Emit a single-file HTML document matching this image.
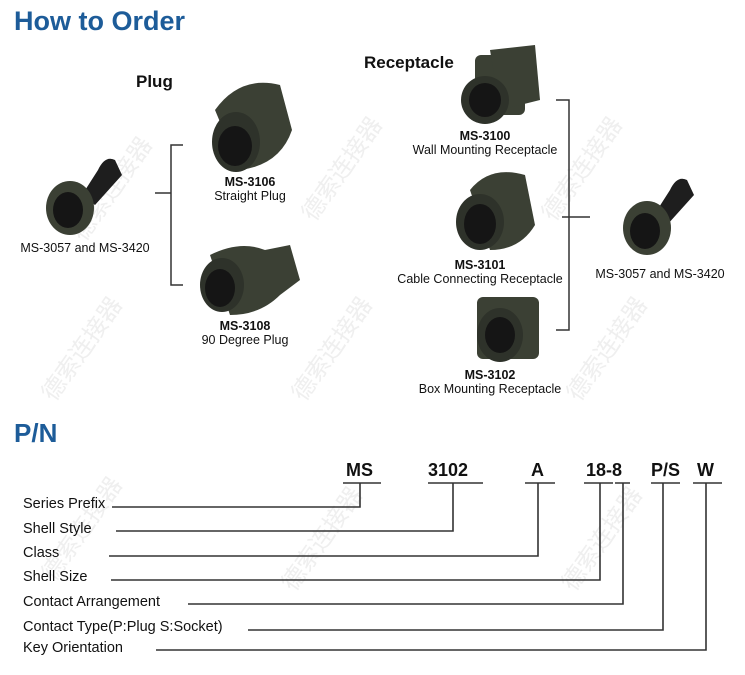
<!DOCTYPE html>
<html><head><meta charset="utf-8"><style>
body{margin:0;width:745px;height:675px;background:#fff;position:relative;overflow:hidden;font-family:"Liberation Sans","Noto Sans CJK SC",sans-serif;color:#111}
.a{position:absolute;white-space:nowrap}
.h{color:#1d5c99;font-weight:bold;font-size:27px}
.c{font-size:12.5px;text-align:center}
.b{font-weight:bold}
.lab{position:absolute;font-size:14.5px;left:23px}
.pn{position:absolute;font-weight:bold;font-size:18px;top:460px}
.wm{position:absolute;color:#efefef;font-size:24px;transform:rotate(-55deg);font-family:"Noto Sans CJK SC",sans-serif}
</style></head><body>
<div class="wm" style="left:50px;top:170px">德索连接器</div>
<div class="wm" style="left:280px;top:150px">德索连接器</div>
<div class="wm" style="left:520px;top:150px">德索连接器</div>
<div class="wm" style="left:20px;top:330px">德索连接器</div>
<div class="wm" style="left:270px;top:330px">德索连接器</div>
<div class="wm" style="left:545px;top:330px">德索连接器</div>
<div class="wm" style="left:20px;top:510px">德索连接器</div>
<div class="wm" style="left:260px;top:520px">德索连接器</div>
<div class="wm" style="left:540px;top:520px">德索连接器</div>

<div class="a h" style="left:14px;top:6px">How to Order</div>
<div class="a b" style="left:136px;top:72px;font-size:17px">Plug</div>
<div class="a b" style="left:364px;top:53px;font-size:17px">Receptacle</div>

<svg class="a" style="left:0;top:0" width="745" height="420">
<g fill="#3b4034">
<path d="M98 170 Q105 155 115 160 L122 175 L95 205 L82 195Z" fill="#1e1e1e"/>
<ellipse cx="70" cy="208" rx="24" ry="27"/><ellipse cx="68" cy="210" rx="15" ry="18" fill="#151515"/>
<path d="M670 190 Q677 175 687 180 L694 195 L667 225 L654 215Z" fill="#1e1e1e"/>
<ellipse cx="647" cy="228" rx="24" ry="27"/><ellipse cx="645" cy="231" rx="15" ry="18" fill="#151515"/>
<path d="M215 110 Q240 75 280 85 L292 130 Q280 165 240 170Z"/>
<ellipse cx="236" cy="142" rx="24" ry="30" fill="#2e322a"/><ellipse cx="235" cy="146" rx="17" ry="20" fill="#151515"/>
<path d="M210 255 Q240 240 265 250 L290 245 L300 280 L280 295 Q260 315 230 315Z"/>
<ellipse cx="222" cy="285" rx="22" ry="27" fill="#2e322a"/><ellipse cx="220" cy="288" rx="15" ry="19" fill="#151515"/>
<rect x="475" y="55" width="50" height="60" rx="6"/><path d="M490 50 L535 45 L540 100 L500 110Z"/>
<ellipse cx="485" cy="100" rx="24" ry="24" fill="#2e322a"/><ellipse cx="485" cy="100" rx="16" ry="17" fill="#151515"/>
<path d="M470 190 Q490 165 525 175 L535 225 Q520 250 490 250Z"/>
<ellipse cx="480" cy="222" rx="24" ry="28" fill="#2e322a"/><ellipse cx="480" cy="224" rx="16" ry="20" fill="#151515"/>
<rect x="477" y="297" width="62" height="62" rx="6"/>
<ellipse cx="500" cy="335" rx="23" ry="27" fill="#2e322a"/><ellipse cx="500" cy="335" rx="15" ry="18" fill="#151515"/>
</g>
<g stroke="#333" stroke-width="1.5" fill="none">
<path d="M183 145 H171 V285 H183 M155 193 H171"/>
<path d="M556 100 H569 V330 H556 M562 217 H590"/>
</g>
</svg>

<div class="a c" style="left:10px;top:241px;width:150px">MS-3057 and MS-3420</div>
<div class="a c" style="left:580px;top:267px;width:160px">MS-3057 and MS-3420</div>
<div class="a c" style="left:180px;top:175px;width:140px"><b>MS-3106</b><br>Straight Plug</div>
<div class="a c" style="left:175px;top:319px;width:140px"><b>MS-3108</b><br>90 Degree Plug</div>
<div class="a c" style="left:390px;top:129px;width:190px"><b>MS-3100</b><br>Wall Mounting Receptacle</div>
<div class="a c" style="left:385px;top:258px;width:190px"><b>MS-3101</b><br>Cable Connecting Receptacle</div>
<div class="a c" style="left:395px;top:368px;width:190px"><b>MS-3102</b><br>Box Mounting Receptacle</div>

<div class="a h" style="left:14px;top:418px;font-size:26px">P/N</div>

<div class="pn" style="left:346px">MS</div>
<div class="pn" style="left:428px">3102</div>
<div class="pn" style="left:531px">A</div>
<div class="pn" style="left:586px">18-8</div>
<div class="pn" style="left:651px">P/S</div>
<div class="pn" style="left:697px">W</div>

<svg class="a" style="left:0;top:0" width="745" height="675">
<g stroke="#333" stroke-width="1.6" fill="none">
<path d="M343 483 H381 M428 483 H483 M525 483 H555 M584 483 H613 M615 483 H630 M651 483 H680 M693 483 H722"/>
<path d="M112 507 H360 V483"/>
<path d="M116 531 H453 V483"/>
<path d="M109 556 H538 V483"/>
<path d="M111 580 H600 V483"/>
<path d="M188 604 H623 V483"/>
<path d="M248 630 H663 V483"/>
<path d="M156 650 H706 V483"/>
</g>
</svg>

<div class="lab" style="top:496px">Series Prefix</div>
<div class="lab" style="top:521px">Shell Style</div>
<div class="lab" style="top:545px">Class</div>
<div class="lab" style="top:569px">Shell Size</div>
<div class="lab" style="top:594px">Contact Arrangement</div>
<div class="lab" style="top:619px">Contact Type(P:Plug S:Socket)</div>
<div class="lab" style="top:640px">Key Orientation</div>
</body></html>
